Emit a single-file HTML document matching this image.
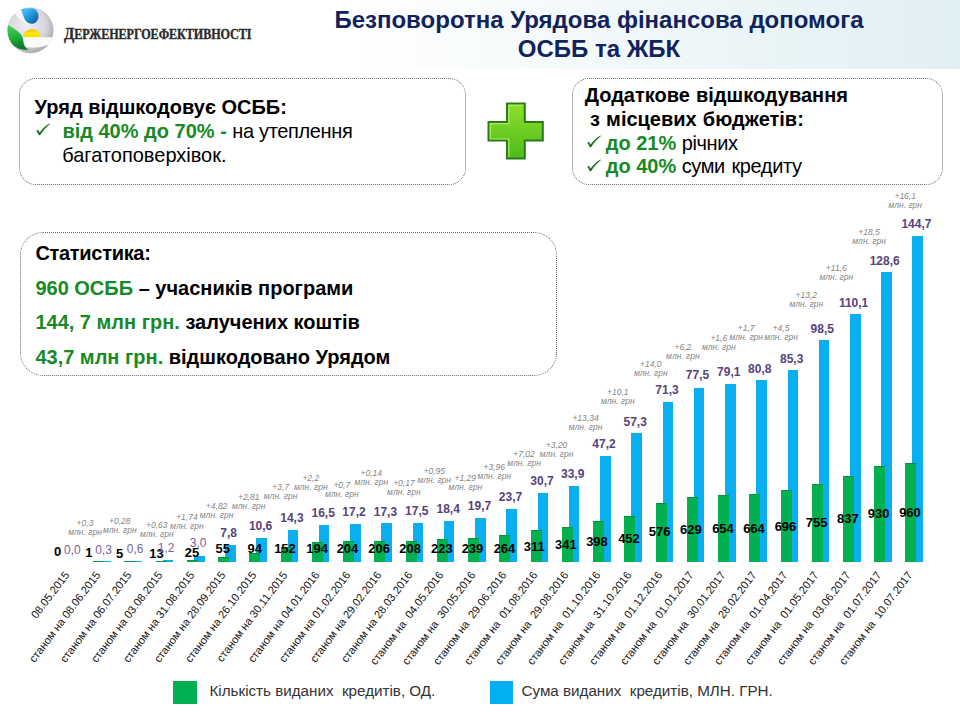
<!DOCTYPE html>
<html><head><meta charset="utf-8">
<style>
*{margin:0;padding:0;box-sizing:border-box}
html,body{width:960px;height:720px;overflow:hidden;background:#fff}
body{position:relative;font-family:"Liberation Sans",sans-serif;color:#000}
.hdr{position:absolute;left:0;top:0;width:960px;height:69px;background:linear-gradient(90deg,#fff 0px,#fff 360px,#e0eff3 960px)}
.t{position:absolute;white-space:nowrap}
.title{position:absolute;left:299px;width:600px;text-align:center;font-weight:bold;font-size:24px;line-height:28px;color:#11235c;white-space:nowrap}
.box{position:absolute;border:1px dotted #6a6a6a;background:transparent}
.bx{position:absolute;font-size:20px;white-space:nowrap;line-height:24px;transform:scaleY(1.04);transform-origin:0 19px}
.g{color:#188a25;font-weight:bold}
.b{font-weight:bold}
.ckw{position:absolute;line-height:0}.ckw svg{display:block}
.bb{position:absolute;background:#0aaff0}
.gb{position:absolute;background:#02b050;box-shadow:inset 0 1px 0 #08923f}
.gl{position:absolute;width:60px;text-align:center;font-weight:bold;font-size:13px;line-height:16px;color:#000}
.bl{position:absolute;width:60px;text-align:center;font-weight:bold;font-size:12px;line-height:16px;color:#56437c}
.bl.r{font-weight:normal;color:#7a64a0}
.an{position:absolute;width:60px;text-align:center;font-style:italic;font-size:8.5px;line-height:9px;color:#858585}
.cl{position:absolute;width:200px;text-align:right;font-size:11.1px;line-height:13px;color:#111;transform-origin:100% 0;transform:rotate(-53deg);white-space:nowrap}
.lg{position:absolute;font-size:15.2px;line-height:18px;color:#333;white-space:nowrap}
</style></head><body>
<div class="hdr"></div>

<!-- logo -->
<svg style="position:absolute;left:0;top:0" width="60" height="60" viewBox="0 0 60 60">
 <defs>
  <radialGradient id="gs" cx="0.42" cy="0.4" r="0.62">
   <stop offset="0" stop-color="#efedf2"/><stop offset="0.7" stop-color="#d6d3da"/><stop offset="1" stop-color="#a8a8ad"/>
  </radialGradient>
  <linearGradient id="gbl" x1="0" y1="0" x2="1" y2="1">
   <stop offset="0" stop-color="#62cdf6"/><stop offset="0.5" stop-color="#2298dc"/><stop offset="1" stop-color="#0b4f8f"/>
  </linearGradient>
  <linearGradient id="ggr" x1="0" y1="0" x2="0.3" y2="1">
   <stop offset="0" stop-color="#4fd35a"/><stop offset="0.6" stop-color="#1fae3c"/><stop offset="1" stop-color="#0c7a28"/>
  </linearGradient>
  <linearGradient id="gy" x1="0" y1="0" x2="0" y2="1">
   <stop offset="0" stop-color="#e8c800"/><stop offset="0.5" stop-color="#ffe600"/><stop offset="1" stop-color="#f5e000"/>
  </linearGradient>
  <clipPath id="lc"><circle cx="30.4" cy="30.2" r="23"/></clipPath>
 </defs>
 <circle cx="30.4" cy="30.2" r="23" fill="url(#gs)"/>
 <g clip-path="url(#lc)">
  <path d="M14.5 13.5 C16 11 18.5 9.5 20.6 8.6 C22.2 12 23.2 16.2 25 19.8 C26.2 22 28.2 23.6 31 23.8 C26 24.5 20 20 14.5 13.5 Z" fill="#f8f8fa"/>
  <path d="M6 24 C10 26 15 29 18.5 32 C21 34.5 22.6 36.5 23 39 C23.4 42 23.6 44 24.3 45.6 C25.2 47.4 26.6 48.6 28.5 49.6 C22 50.5 15 48 11 43 C8 39 6 31 6 24 Z" fill="url(#ggr)"/>
  <path d="M23 37 L54 37.3 C53.8 40 52.3 42.2 49.8 43.8 C45 46.8 35 48.6 26 47 C24.3 44 23.4 40.5 23 37 Z" fill="#fbfbfc"/>
  <path d="M23.4 37 C23.4 32.2 27.2 29.3 32 29.3 C36.8 29.3 40.4 32.4 40.4 37 Z" fill="url(#gy)"/>
  <path d="M20.6 8.6 C25 8.2 29.5 7.8 33 8.6 C37 9.8 39 13.5 38.4 17.4 C37.7 21.4 34.3 24 31.2 23.8 C28.2 23.6 26.2 22 25 19.8 C23.2 16.2 22.2 12 20.6 8.6 Z" fill="url(#gbl)"/>
 </g>
</svg>
<div class="t" style="left:63.5px;top:23.8px;font-family:'Liberation Serif',serif;font-weight:bold;color:#2b2b2b;font-size:13.6px;-webkit-text-stroke:0.35px #2b2b2b;transform:scaleX(0.895);transform-origin:0 0;letter-spacing:-0.1px"><span style="font-size:16.8px">Д</span>ЕРЖЕНЕРГОЕФЕКТИВНОСТІ</div>

<div class="title" style="top:6px">Безповоротна Урядова фінансова допомога</div>
<div class="title" style="top:35px">ОСББ та ЖБК</div>

<!-- boxes -->
<div class="box" style="left:19px;top:78px;width:447px;height:107px;border-radius:17px"></div>
<div class="box" style="left:572px;top:78px;width:371px;height:107px;border-radius:17px"></div>
<div class="box" style="left:20px;top:232px;width:537px;height:144px;border-radius:23px"></div>

<div class="bx b" style="left:34.6px;top:94.7px">Уряд відшкодовує ОСББ:</div>
<div class="ckw" style="left:35.5px;top:123px"><svg class="ck" width="15" height="13" viewBox="0 0 15 13"><path d="M0.3 7.6 L2.2 6.9 L3.6 9.6 C6 6 9.5 2.6 13.6 0.4 L14 1 C10.5 3.6 7.2 7.6 4.1 12.2 L2.9 12.3 Z" fill="#1f6e1f"/></svg></div>
<div class="bx" style="left:62.4px;top:119px"><span class="g">від 40% до 70% -</span> <span style="letter-spacing:-0.35px">на утеплення</span></div>
<div class="bx" style="left:62.2px;top:142.8px">багатоповерхівок.</div>

<div class="bx b" style="left:584.7px;top:83px;word-spacing:0.5px">Додаткове відшкодування</div>
<div class="bx b" style="left:590px;top:107px;word-spacing:0.6px">з місцевих бюджетів:</div>
<div class="ckw" style="left:586.5px;top:135px"><svg class="ck" width="15" height="13" viewBox="0 0 15 13"><path d="M0.3 7.6 L2.2 6.9 L3.6 9.6 C6 6 9.5 2.6 13.6 0.4 L14 1 C10.5 3.6 7.2 7.6 4.1 12.2 L2.9 12.3 Z" fill="#1f6e1f"/></svg></div>
<div class="bx" style="left:605.7px;top:131px"><span class="g">до 21%</span> <span style="letter-spacing:-0.4px">річних</span></div>
<div class="ckw" style="left:586.5px;top:159px"><svg class="ck" width="15" height="13" viewBox="0 0 15 13"><path d="M0.3 7.6 L2.2 6.9 L3.6 9.6 C6 6 9.5 2.6 13.6 0.4 L14 1 C10.5 3.6 7.2 7.6 4.1 12.2 L2.9 12.3 Z" fill="#1f6e1f"/></svg></div>
<div class="bx" style="left:605.7px;top:154.4px"><span class="g">до 40%</span> <span style="letter-spacing:-0.4px;word-spacing:1.5px">суми кредиту</span></div>

<div class="bx b" style="left:35.4px;top:240.8px;letter-spacing:-0.3px">Статистика:</div>
<div class="bx b" style="left:35.4px;top:275.8px"><span class="g">960 ОСББ</span> – учасників програми</div>
<div class="bx b" style="left:35.4px;top:310px"><span class="g">144, 7 млн грн.</span> залучених коштів</div>
<div class="bx b" style="left:35.4px;top:345.4px"><span class="g">43,7 млн грн.</span> відшкодовано Урядом</div>

<!-- plus -->
<svg style="position:absolute;left:486px;top:101px" width="60" height="60" viewBox="0 0 60 60">
 <defs>
  <linearGradient id="pg" x1="0" y1="0" x2="0" y2="1">
   <stop offset="0" stop-color="#8ee02a"/><stop offset="1" stop-color="#4cbb1c"/>
  </linearGradient>
 </defs>
 <path d="M21 2.5 H38.8 V21 H56.8 V39.4 H38.8 V57.6 H21 V39.4 H2.5 V21 H21 Z" fill="url(#pg)" stroke="#2a7a18" stroke-width="2"/>
 <path d="M22.8 56 V38 H4.3 V22.7 H22.8 V4.3 H37" fill="none" stroke="#b4f06a" stroke-width="1.2" opacity="0.85"/>
</svg>

<div class="bb" style="left:100.22px;top:561.1px;width:10.6px;height:1.3px"></div>
<div class="gb" style="left:93.22px;top:561.1px;width:11px;height:1.3px"></div>
<div class="bb" style="left:131.46px;top:561.05px;width:10.6px;height:1.35px"></div>
<div class="gb" style="left:124.46px;top:561.1px;width:11px;height:1.3px"></div>
<div class="bb" style="left:162.7px;top:559.69px;width:10.6px;height:2.71px"></div>
<div class="gb" style="left:155.7px;top:561.05px;width:11px;height:1.35px"></div>
<div class="bb" style="left:193.94px;top:555.63px;width:10.6px;height:6.77px"></div>
<div class="gb" style="left:186.94px;top:559.81px;width:11px;height:2.59px"></div>
<div class="bb" style="left:225.18px;top:544.81px;width:10.6px;height:17.59px"></div>
<div class="gb" style="left:218.18px;top:556.71px;width:11px;height:5.69px"></div>
<div class="bb" style="left:256.42px;top:538.49px;width:10.6px;height:23.91px"></div>
<div class="gb" style="left:249.42px;top:552.67px;width:11px;height:9.73px"></div>
<div class="bb" style="left:287.66px;top:530.14px;width:10.6px;height:32.26px"></div>
<div class="gb" style="left:280.66px;top:546.67px;width:11px;height:15.73px"></div>
<div class="bb" style="left:318.9px;top:525.18px;width:10.6px;height:37.22px"></div>
<div class="gb" style="left:311.9px;top:542.32px;width:11px;height:20.08px"></div>
<div class="bb" style="left:350.14px;top:523.6px;width:10.6px;height:38.8px"></div>
<div class="gb" style="left:343.14px;top:541.29px;width:11px;height:21.11px"></div>
<div class="bb" style="left:381.38px;top:523.38px;width:10.6px;height:39.02px"></div>
<div class="gb" style="left:374.38px;top:541.08px;width:11px;height:21.32px"></div>
<div class="bb" style="left:412.62px;top:522.93px;width:10.6px;height:39.47px"></div>
<div class="gb" style="left:405.62px;top:540.87px;width:11px;height:21.53px"></div>
<div class="bb" style="left:443.86px;top:520.9px;width:10.6px;height:41.5px"></div>
<div class="gb" style="left:436.86px;top:539.32px;width:11px;height:23.08px"></div>
<div class="bb" style="left:475.1px;top:517.96px;width:10.6px;height:44.44px"></div>
<div class="gb" style="left:468.1px;top:537.66px;width:11px;height:24.74px"></div>
<div class="bb" style="left:506.34px;top:508.94px;width:10.6px;height:53.46px"></div>
<div class="gb" style="left:499.34px;top:535.08px;width:11px;height:27.32px"></div>
<div class="bb" style="left:537.58px;top:493.15px;width:10.6px;height:69.25px"></div>
<div class="gb" style="left:530.58px;top:530.21px;width:11px;height:32.19px"></div>
<div class="bb" style="left:568.82px;top:485.93px;width:10.6px;height:76.47px"></div>
<div class="gb" style="left:561.82px;top:527.11px;width:11px;height:35.29px"></div>
<div class="bb" style="left:600.06px;top:455.93px;width:10.6px;height:106.47px"></div>
<div class="gb" style="left:593.06px;top:521.21px;width:11px;height:41.19px"></div>
<div class="bb" style="left:631.3px;top:433.15px;width:10.6px;height:129.25px"></div>
<div class="gb" style="left:624.3px;top:515.62px;width:11px;height:46.78px"></div>
<div class="bb" style="left:662.54px;top:401.57px;width:10.6px;height:160.83px"></div>
<div class="gb" style="left:655.54px;top:502.78px;width:11px;height:59.62px"></div>
<div class="bb" style="left:693.78px;top:387.58px;width:10.6px;height:174.82px"></div>
<div class="gb" style="left:686.78px;top:497.3px;width:11px;height:65.1px"></div>
<div class="bb" style="left:725.02px;top:383.97px;width:10.6px;height:178.43px"></div>
<div class="gb" style="left:718.02px;top:494.71px;width:11px;height:67.69px"></div>
<div class="bb" style="left:756.26px;top:380.14px;width:10.6px;height:182.26px"></div>
<div class="gb" style="left:749.26px;top:493.68px;width:11px;height:68.72px"></div>
<div class="bb" style="left:787.5px;top:369.99px;width:10.6px;height:192.41px"></div>
<div class="gb" style="left:780.5px;top:490.36px;width:11px;height:72.04px"></div>
<div class="bb" style="left:818.74px;top:340.21px;width:10.6px;height:222.19px"></div>
<div class="gb" style="left:811.74px;top:484.26px;width:11px;height:78.14px"></div>
<div class="bb" style="left:849.98px;top:314.05px;width:10.6px;height:248.35px"></div>
<div class="gb" style="left:842.98px;top:475.77px;width:11px;height:86.63px"></div>
<div class="bb" style="left:881.22px;top:272.32px;width:10.6px;height:290.08px"></div>
<div class="gb" style="left:874.22px;top:466.14px;width:11px;height:96.25px"></div>
<div class="bb" style="left:912.46px;top:236px;width:10.6px;height:326.4px"></div>
<div class="gb" style="left:905.46px;top:463.04px;width:11px;height:99.36px"></div>
<div class="gl" style="left:27.5px;top:544.4px">0</div>
<div class="bl r" style="left:42.3px;top:542.1px">0,0</div>
<div class="gl" style="left:58.8px;top:545px">1</div>
<div class="bl r" style="left:73.5px;top:541.5px">0,3</div>
<div class="an" style="left:55px;top:519.4px">+0,3<br>млн. грн</div>
<div class="gl" style="left:89.7px;top:546px">5</div>
<div class="bl r" style="left:105.2px;top:540.6px">0,6</div>
<div class="an" style="left:89.8px;top:517.1px">+0,28<br>млн. грн</div>
<div class="gl" style="left:126.4px;top:546.4px">13</div>
<div class="bl r" style="left:136.2px;top:540.1px">1,2</div>
<div class="an" style="left:126.8px;top:521.3px">+0,63<br>млн. грн</div>
<div class="gl" style="left:161.9px;top:544.5px">25</div>
<div class="bl r" style="left:168.1px;top:534.8px">3,0</div>
<div class="an" style="left:156.9px;top:512.6px">+1,74<br>млн. грн</div>
<div class="gl" style="left:192.8px;top:541px">55</div>
<div class="bl" style="left:198.6px;top:524.5px">7,8</div>
<div class="an" style="left:186.6px;top:501.95px">+4,82<br>млн. грн</div>
<div class="gl" style="left:224.7px;top:541px">94</div>
<div class="bl" style="left:230.6px;top:518px">10,6</div>
<div class="an" style="left:218.7px;top:492.6px">+2,81<br>млн. грн</div>
<div class="gl" style="left:255px;top:541px">152</div>
<div class="bl" style="left:261.9px;top:510.1px">14,3</div>
<div class="an" style="left:250.6px;top:483.2px">+3,7<br>млн. грн</div>
<div class="gl" style="left:287.1px;top:541.3px">194</div>
<div class="bl" style="left:293.2px;top:505.3px">16,5</div>
<div class="an" style="left:280.8px;top:474px">+2,2<br>млн. грн</div>
<div class="gl" style="left:317.5px;top:541px">204</div>
<div class="bl" style="left:324px;top:503.7px">17,2</div>
<div class="an" style="left:311.8px;top:480.7px">+0,7<br>млн. грн</div>
<div class="gl" style="left:349.2px;top:541px">206</div>
<div class="bl" style="left:355.4px;top:503.7px">17,3</div>
<div class="an" style="left:341.3px;top:469px">+0,14<br>млн. грн</div>
<div class="gl" style="left:380.2px;top:541.1px">208</div>
<div class="bl" style="left:386.8px;top:503.2px">17,5</div>
<div class="an" style="left:373.9px;top:478.9px">+0,17<br>млн. грн</div>
<div class="gl" style="left:411.8px;top:541px">223</div>
<div class="bl" style="left:418.2px;top:500.9px">18,4</div>
<div class="an" style="left:404.2px;top:467.2px">+0,95<br>млн. грн</div>
<div class="gl" style="left:442.5px;top:541px">239</div>
<div class="bl" style="left:449.5px;top:497.8px">19,7</div>
<div class="an" style="left:435.3px;top:474.4px">+1,29<br>млн. грн</div>
<div class="gl" style="left:474.5px;top:541.4px">264</div>
<div class="bl" style="left:480.5px;top:489.4px">23,7</div>
<div class="an" style="left:464.3px;top:463.4px">+3,96<br>млн. грн</div>
<div class="gl" style="left:504.2px;top:538.5px">311</div>
<div class="bl" style="left:512px;top:473.3px">30,7</div>
<div class="an" style="left:494px;top:450.3px">+7,02<br>млн. грн</div>
<div class="gl" style="left:535.9px;top:536.5px">341</div>
<div class="bl" style="left:542.7px;top:466.1px">33,9</div>
<div class="an" style="left:526.6px;top:440.6px">+3,20<br>млн. грн</div>
<div class="gl" style="left:567px;top:534px">398</div>
<div class="bl" style="left:574px;top:436.4px">47,2</div>
<div class="an" style="left:555.5px;top:414px">+13,34<br>млн. грн</div>
<div class="gl" style="left:599px;top:530.9px">452</div>
<div class="bl" style="left:605.2px;top:413.5px">57,3</div>
<div class="an" style="left:587.8px;top:388.1px">+10,1<br>млн. грн</div>
<div class="gl" style="left:629.6px;top:524.3px">576</div>
<div class="bl" style="left:637px;top:381.9px">71,3</div>
<div class="an" style="left:620.8px;top:359.9px">+14,0<br>млн. грн</div>
<div class="gl" style="left:660.9px;top:522.2px">629</div>
<div class="bl" style="left:667.5px;top:367.3px">77,5</div>
<div class="an" style="left:652.9px;top:342.7px">+6,2<br>млн. грн</div>
<div class="gl" style="left:693px;top:521px">654</div>
<div class="bl" style="left:698.8px;top:363.7px">79,1</div>
<div class="an" style="left:688.8px;top:334.4px">+1,6<br>млн. грн</div>
<div class="gl" style="left:724px;top:521px">664</div>
<div class="bl" style="left:729.8px;top:360.7px">80,8</div>
<div class="an" style="left:716.2px;top:324.4px">+1,7<br>млн. грн</div>
<div class="gl" style="left:755.5px;top:518.5px">696</div>
<div class="bl" style="left:761.7px;top:351px">85,3</div>
<div class="an" style="left:751px;top:323.8px">+4,5<br>млн. грн</div>
<div class="gl" style="left:786.7px;top:515.3px">755</div>
<div class="bl" style="left:792.3px;top:320.75px">98,5</div>
<div class="an" style="left:776.3px;top:290.7px">+13,2<br>млн. грн</div>
<div class="gl" style="left:817.8px;top:511.3px">837</div>
<div class="bl" style="left:823.6px;top:294.5px">110,1</div>
<div class="an" style="left:806.3px;top:264.1px">+11,6<br>млн. грн</div>
<div class="gl" style="left:848.7px;top:506px">930</div>
<div class="bl" style="left:854.7px;top:253.1px">128,6</div>
<div class="an" style="left:839.1px;top:227.9px">+18,5<br>млн. грн</div>
<div class="gl" style="left:880px;top:504.9px">960</div>
<div class="bl" style="left:886.4px;top:215.8px">144,7</div>
<div class="an" style="left:875.2px;top:191.7px">+16,1<br>млн. грн</div>
<div class="cl" style="left:-138.42px;top:568.5px">08.05.2015</div>
<div class="cl" style="left:-107.18px;top:568.5px">станом на 08.06.2015</div>
<div class="cl" style="left:-75.94px;top:568.5px">станом на 06.07.2015</div>
<div class="cl" style="left:-44.7px;top:568.5px">станом на 03.08.2015</div>
<div class="cl" style="left:-13.46px;top:568.5px">станом на 31.08.2015</div>
<div class="cl" style="left:17.78px;top:568.5px">станом на 28.09.2015</div>
<div class="cl" style="left:49.02px;top:568.5px">станом на 26.10.2015</div>
<div class="cl" style="left:80.26px;top:568.5px">станом на 30.11.2015</div>
<div class="cl" style="left:111.5px;top:568.5px">станом на 04.01.2016</div>
<div class="cl" style="left:142.74px;top:568.5px">станом на 01.02.2016</div>
<div class="cl" style="left:173.98px;top:568.5px">станом на 29.02.2016</div>
<div class="cl" style="left:205.22px;top:568.5px">станом на 28.03.2016</div>
<div class="cl" style="left:236.46px;top:568.5px">станом на&nbsp; 04.05.2016</div>
<div class="cl" style="left:267.7px;top:568.5px">станом на&nbsp; 30.05.2016</div>
<div class="cl" style="left:298.94px;top:568.5px">станом на&nbsp; 29.06.2016</div>
<div class="cl" style="left:330.18px;top:568.5px">станом на&nbsp; 01.08.2016</div>
<div class="cl" style="left:361.42px;top:568.5px">станом на&nbsp; 29.08.2016</div>
<div class="cl" style="left:392.66px;top:568.5px">станом на&nbsp; 01.10.2016</div>
<div class="cl" style="left:423.9px;top:568.5px">станом на&nbsp; 31.10.2016</div>
<div class="cl" style="left:455.14px;top:568.5px">станом на&nbsp; 01.12.2016</div>
<div class="cl" style="left:486.38px;top:568.5px">станом на&nbsp; 01.01.2017</div>
<div class="cl" style="left:517.62px;top:568.5px">станом на&nbsp; 30.01.2017</div>
<div class="cl" style="left:548.86px;top:568.5px">станом на&nbsp; 28.02.2017</div>
<div class="cl" style="left:580.1px;top:568.5px">станом на&nbsp; 01.04.2017</div>
<div class="cl" style="left:611.34px;top:568.5px">станом на&nbsp; 01.05.2017</div>
<div class="cl" style="left:642.58px;top:568.5px">станом на&nbsp; 03.06.2017</div>
<div class="cl" style="left:673.82px;top:568.5px">станом на&nbsp; 01.07.2017</div>
<div class="cl" style="left:705.06px;top:568.5px">станом на&nbsp; 10.07.2017</div>

<!-- legend -->
<div style="position:absolute;left:173px;top:681px;width:24px;height:23px;background:#00b050"></div>
<div class="lg" style="left:209.5px;top:681.5px">Кількість виданих&nbsp; кредитів, ОД.</div>
<div style="position:absolute;left:490px;top:681px;width:23px;height:23px;background:#00b0f0"></div>
<div class="lg" style="left:521.5px;top:681.5px">Сума виданих&nbsp; кредитів, МЛН. ГРН.</div>
</body></html>
